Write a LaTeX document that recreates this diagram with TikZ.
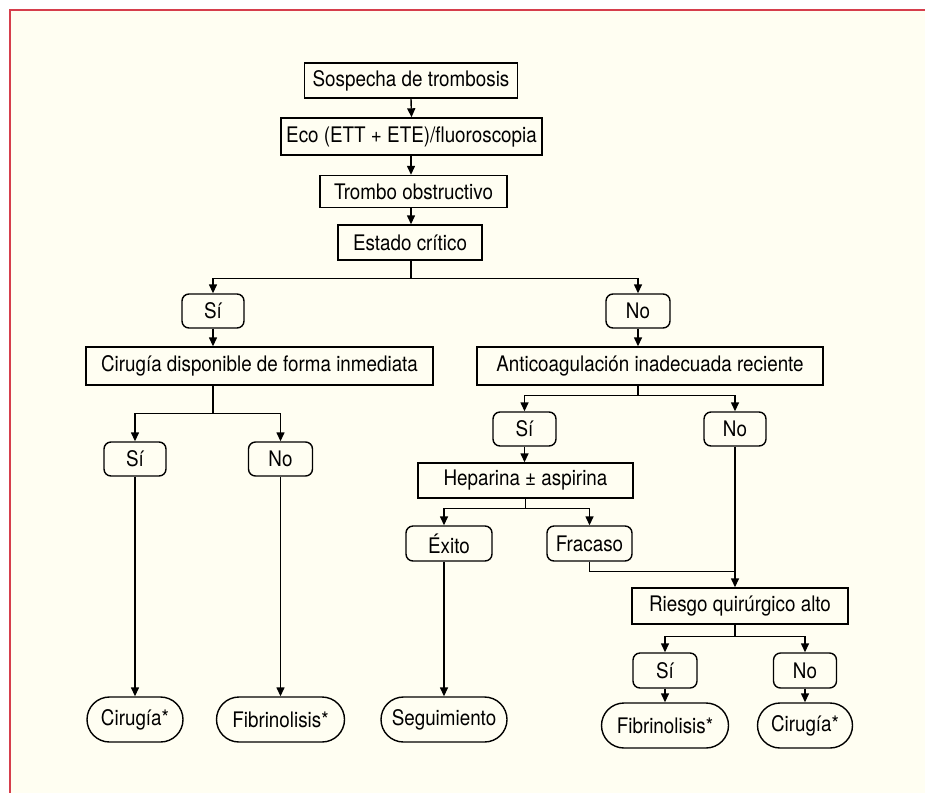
\documentclass[tikz,border=0pt]{standalone}
\usepackage{fontspec}
\setmainfont{TeX Gyre Heros}[FakeStretch=0.88]
\usetikzlibrary{arrows.meta,shapes.misc}
\definecolor{fondo}{RGB}{255,254,242}
\definecolor{marco}{RGB}{214,62,76}

\begin{document}
\begin{tikzpicture}[x=0.5pt,y=-0.5pt,
    caja/.style={draw,line width=0.7pt,inner sep=0pt,font=\fontsize{10.7}{12}\selectfont},
    resp/.style={caja,rounded corners=3.5pt},
    fin/.style={caja,rounded rectangle,minimum height=22.5pt},
    flecha/.style={line width=0.7pt,-{Triangle[length=4.5pt,width=4pt]}},
    linea/.style={line width=0.7pt}]
    % fondo y marco
    \useasboundingbox (0,0) rectangle (925,793);
    \fill[white] (0,0) rectangle (925,793);
    \fill[fondo] (10,10) rectangle (925,793);
    \draw[marco,line width=0.8pt] (925,10) -- (10,10) -- (10,793);

    % tronco
    \node[caja,minimum width=106.5pt,minimum height=17.5pt] (sospecha) at (411,80.5) {Sospecha de trombosis};
    \node[caja,minimum width=130.5pt,minimum height=18.5pt] (eco) at (411.5,136.5) {Eco (ETT + ETE)/fluoroscopia};
    \node[caja,minimum width=93.5pt,minimum height=16pt] (trombo) at (413.5,191.5) {Trombo obstructivo};
    \node[caja,minimum width=72pt,minimum height=17.5pt] (estado) at (410,242.5) {Estado crítico};
    \draw[flecha] (sospecha.south) -- (eco.north);
    \draw[flecha] (eco.south -| sospecha) -- (trombo.north -| sospecha);
    \draw[flecha] (trombo.south -| sospecha) -- (estado.north -| sospecha);

    % rama izquierda
    \node[resp,minimum width=31pt,minimum height=17pt] (si1) at (213,311) {Sí};
    \node[caja,minimum width=173.5pt,minimum height=19pt] (cirdisp) at (259.5,366) {Cirugía disponible de forma inmediata};
    \node[resp,minimum width=31pt,minimum height=17pt] (si2) at (135,459) {Sí};
    \node[resp,minimum width=32pt,minimum height=17pt] (no2) at (280.5,459) {No};
    \node[fin,minimum width=48pt] (cir1) at (135,719.5) {Cirugía*};
    \node[fin,minimum width=64pt] (fib1) at (280.5,719.5) {Fibrinolisis*};

    % rama derecha
    \node[resp,minimum width=32pt,minimum height=17pt] (no1) at (638,311) {No};
    \node[caja,minimum width=173pt,minimum height=19pt] (anti) at (650,366) {Anticoagulación inadecuada reciente};
    \node[resp,minimum width=31.5pt,minimum height=17pt] (si3) at (524.5,429) {Sí};
    \node[resp,minimum width=31pt,minimum height=17pt] (no3) at (735,429) {No};
    \node[caja,minimum width=107.5pt,minimum height=17.5pt] (hep) at (525.5,480.5) {Heparina ± aspirina};
    \node[resp,minimum width=43pt,minimum height=17.5pt] (exito) at (449,543.5) {Éxito};
    \node[resp,minimum width=42.5pt,minimum height=17.5pt] (fracaso) at (589.5,543.5) {Fracaso};
    \node[fin,minimum width=63pt] (seg) at (444,719.5) {Seguimiento};
    \node[caja,minimum width=108pt,minimum height=18pt] (riesgo) at (740,606) {Riesgo quirúrgico alto};
    \node[resp,minimum width=32pt,minimum height=17.5pt] (si4) at (665,670.5) {Sí};
    \node[resp,minimum width=31.5pt,minimum height=17.5pt] (no4) at (805,670.5) {No};
    \node[fin,minimum width=63.5pt] (fib2) at (665,725.5) {Fibrinolisis*};
    \node[fin,minimum width=47.5pt] (cir2) at (805,725.5) {Cirugía*};

    % conectores
    \draw[flecha] (estado.south -| sospecha) -- ++(0,17.5) -| (si1.north);
    \draw[flecha] (estado.south -| sospecha) -- ++(0,17.5) -| (no1.north);
    \draw[flecha] (si1.south) -- (cirdisp.north -| si1);
    \draw[flecha] (no1.south) -- (anti.north -| no1);
    \draw[flecha] (cirdisp.south -| si1) -- ++(0,28) -| (si2.north);
    \draw[flecha] (cirdisp.south -| si1) -- ++(0,28) -| (no2.north);
    \draw[flecha] (si2.south) -- (cir1.north);
    \draw[flecha] (no2.south) -- (fib1.north);
    \draw[flecha] (anti.south -| no1) -- ++(0,10) -| (si3.north);
    \draw[flecha] (anti.south -| no1) -- ++(0,10) -| (no3.north);
    \draw[flecha] (si3.south) -- (hep.north -| si3);
    \draw[flecha] (hep.south) -- ++(0,10) -| (exito.north -| seg);
    \draw[flecha] (hep.south) -- ++(0,10) -| (fracaso.north);
    \draw[flecha] (exito.south -| seg) -- (seg.north);
    \draw[linea] (fracaso.south) -- ++(0,10) -| (no3.south);
    \draw[flecha] (no3.south) -- (riesgo.north -| no3);
    \draw[flecha] (riesgo.south -| no3) -- ++(0,12) -| (si4.north);
    \draw[flecha] (riesgo.south -| no3) -- ++(0,12) -| (no4.north);
    \draw[flecha] (si4.south) -- (fib2.north);
    \draw[flecha] (no4.south) -- (cir2.north);
\end{tikzpicture}
\end{document}
